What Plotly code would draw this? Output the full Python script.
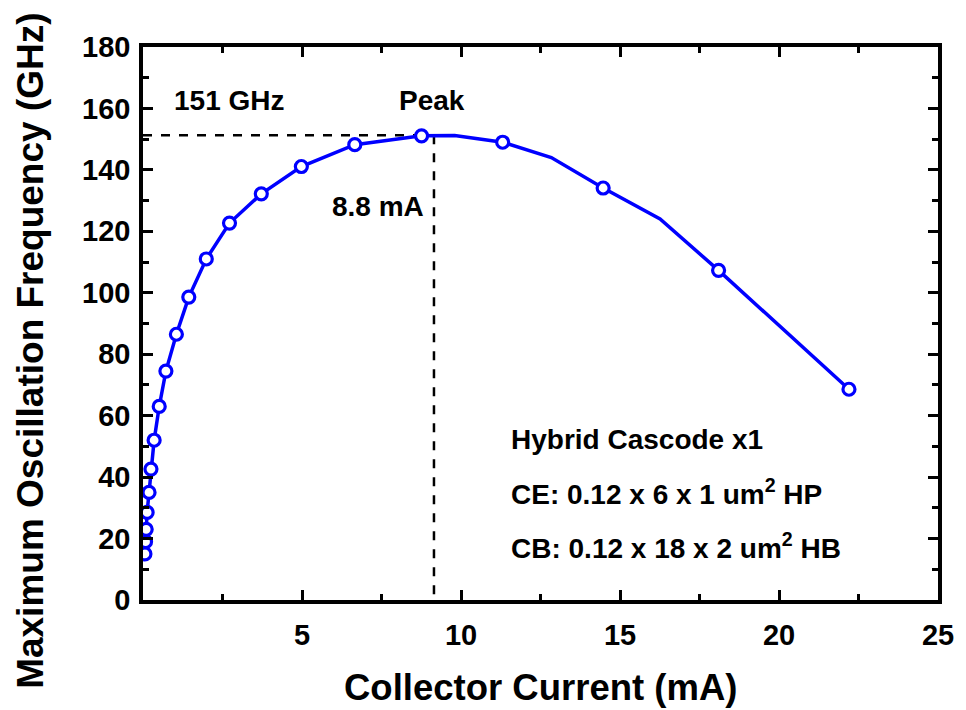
import plotly.graph_objects as go

# Measured points (markers)
current_ma = [0.06, 0.08, 0.10, 0.13, 0.19, 0.25, 0.35, 0.51, 0.72, 1.05, 1.44,
              1.99, 2.72, 3.72, 4.98, 6.66, 8.76, 11.31, 14.47, 18.1, 22.2]
fmax_ghz = [15, 19, 23, 28.5, 35, 42.6, 52, 63, 74.5, 86.5, 98.6,
            111, 122.7, 132.2, 141.1, 148.2, 151.1, 149, 134.1, 107.3, 68.6]

# Full curve (includes intermediate vertices without markers)
line_current = [0.06, 0.08, 0.10, 0.13, 0.19, 0.25, 0.35, 0.51, 0.72, 1.05, 1.44,
                1.99, 2.72, 3.72, 4.98, 6.66, 8.76, 9.8, 11.31, 12.84, 14.47, 16.26, 18.1, 22.2]
line_fmax = [15, 19, 23, 28.5, 35, 42.6, 52, 63, 74.5, 86.5, 98.6,
             111, 122.7, 132.2, 141.1, 148.2, 151.1, 151.2, 149, 144, 134.1, 124, 107.3, 68.6]

peak_freq = 151.3
peak_current_line = 9.15

x_tickvals = [5, 10, 15, 20, 25]
y_tickvals = [0, 20, 40, 60, 80, 100, 120, 140, 160, 180]

BLUE = "#0000FF"
FONT = "Liberation Sans, Arial, sans-serif"

fig = go.Figure()

# dashed guide lines
fig.add_trace(go.Scatter(x=[0, peak_current_line], y=[peak_freq, peak_freq], mode="lines",
                         line=dict(color="black", width=2.5, dash="dash"), showlegend=False))
fig.add_trace(go.Scatter(x=[peak_current_line, peak_current_line], y=[peak_freq, 0], mode="lines",
                         line=dict(color="black", width=2.5, dash="dash"), showlegend=False))

fig.add_trace(go.Scatter(x=line_current, y=line_fmax, mode="lines",
                         line=dict(color=BLUE, width=3.5), showlegend=False))
fig.add_trace(go.Scatter(x=current_ma, y=fmax_ghz, mode="markers",
                         marker=dict(symbol="circle", size=12, color="white",
                                     line=dict(color=BLUE, width=3.2)),
                         showlegend=False))

ann_font = dict(family=FONT, size=28, color="black")
annotations = [
    dict(x=0.9, y=162.7, text="<b>151 GHz</b>", xanchor="left"),
    dict(x=9.1, y=162.7, text="<b>Peak</b>", xanchor="center"),
    dict(x=8.9, y=128, text="<b>8.8 mA</b>", xanchor="right"),
    dict(x=11.5, y=52.3, text="<b>Hybrid Cascode x1</b>", xanchor="left"),
    dict(x=11.5, y=35, text="<b>CE: 0.12 x 6 x 1 um<sup>2</sup> HP</b>", xanchor="left"),
    dict(x=11.5, y=17.5, text="<b>CB: 0.12 x 18 x 2 um<sup>2</sup> HB</b>", xanchor="left"),
]
for a in annotations:
    a.update(xref="x", yref="y", showarrow=False, yanchor="middle", font=ann_font)

# axis titles as paper-positioned annotations
annotations.append(dict(xref="paper", yref="paper", x=0.5, y=-0.158, showarrow=False,
                        xanchor="center", yanchor="middle",
                        text="<b>Collector Current (mA)</b>",
                        font=dict(family=FONT, size=36.5, color="black")))
annotations.append(dict(xref="paper", yref="paper", x=-0.1425, y=0.45, showarrow=False,
                        xanchor="center", yanchor="middle", textangle=-90,
                        text="<b>Maximum Oscillation Frequency (GHz)</b>",
                        font=dict(family=FONT, size=37, color="black")))

axis_common = dict(showline=True, linecolor="black", linewidth=3.5, mirror="allticks",
                   ticks="inside", ticklen=10, tickwidth=3, tickcolor="black",
                   showgrid=False, zeroline=False,
                   tickfont=dict(family=FONT, size=29, color="black"))

fig.update_layout(
    width=966, height=710,
    margin=dict(l=143, r=23, t=47, b=110),
    paper_bgcolor="white", plot_bgcolor="white",
    annotations=annotations,
    xaxis=dict(range=[0, 25], tickvals=x_tickvals, ticktext=[f"<b>{v}</b>" for v in x_tickvals],
               minor=dict(ticks="inside", ticklen=6, tickwidth=2.5, tickcolor="black", dtick=2.5),
               ticklabelstandoff=6,
               **axis_common),
    yaxis=dict(range=[0, 180], tickvals=y_tickvals, ticktext=[f"<b>{v}</b>" for v in y_tickvals],
               minor=dict(ticks="inside", ticklen=6, tickwidth=2.5, tickcolor="black", dtick=10),
               ticklabelstandoff=3,
               **axis_common),
)

fig.write_html("out.html")
